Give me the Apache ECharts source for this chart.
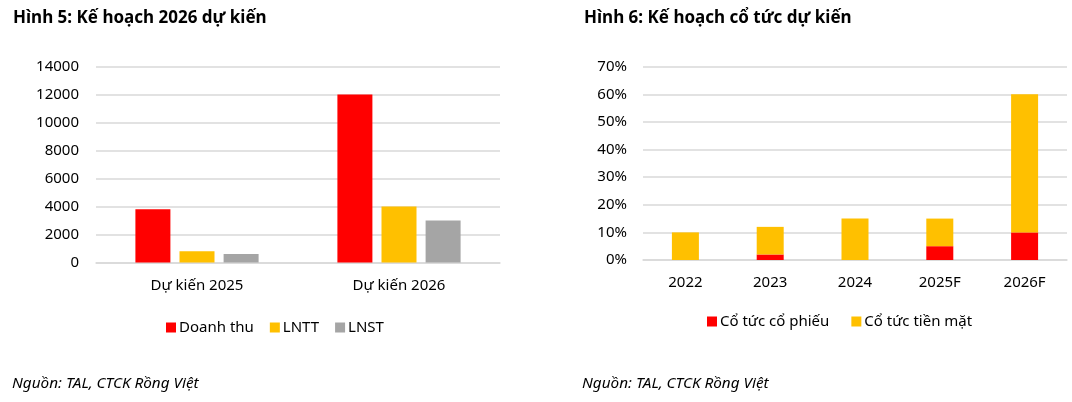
<!DOCTYPE html>
<html>
<head>
<meta charset="utf-8">
<script src="https://cdn.jsdelivr.net/npm/echarts@6/dist/echarts.min.js"></script>
<style>
html,body{margin:0;padding:0;background:#fff;}
#c{width:1072px;height:402px;}
</style>
</head>
<body>
<div id="c"></div>
<script>
// Left chart data
const planCategories = ['Dự kiến 2025', 'Dự kiến 2026'];
const doanhThu = [3800, 12000];
const lntt = [800, 4000];
const lnst = [600, 3000];

// Right chart data
const divCategories = ['2022', '2023', '2024', '2025F', '2026F'];
const coTucCoPhieu = [0, 2, 0, 5, 10];
const coTucTienMat = [10, 10, 15, 10, 50];

const FONT = 'Noto Sans';
const GRID = '#D9D9D9';
const chart = echarts.init(document.getElementById('c'));

chart.setOption({
  animation: false,
  textStyle: {fontFamily: FONT, color: '#000'},
  title: [
    {text: 'Hình 5: Kế hoạch 2026 dự kiến', left: 8, top: 5,
     textStyle: {fontFamily: FONT, fontWeight: 'bold', fontSize: 17, color: '#000'}},
    {text: 'Hình 6: Kế hoạch cổ tức dự kiến', left: 579, top: 5,
     textStyle: {fontFamily: FONT, fontWeight: 'bold', fontSize: 17, color: '#000'}},
    {text: 'Nguồn: TAL, CTCK Rồng Việt', left: 7, top: 371,
     textStyle: {fontFamily: FONT, fontStyle: 'italic', fontWeight: 'normal', fontSize: 15.3, color: '#000'}},
    {text: 'Nguồn: TAL, CTCK Rồng Việt', left: 577, top: 371,
     textStyle: {fontFamily: FONT, fontStyle: 'italic', fontWeight: 'normal', fontSize: 15.3, color: '#000'}}
  ],
  legend: [
    {data: ['Doanh thu', 'LNTT', 'LNST'], left: 161, top: 315, itemWidth: 10, itemHeight: 10,
     itemGap: 16, icon: 'rect', textStyle: {fontFamily: FONT, fontSize: 15, color: '#000', padding: [0,0,0,-2]}},
    {data: ['Cổ tức cổ phiếu', 'Cổ tức tiền mặt'], left: 702, top: 309, itemWidth: 10, itemHeight: 10,
     itemGap: 22, icon: 'rect', textStyle: {fontFamily: FONT, fontSize: 15, color: '#000', padding: [0,0,0,-2]}}
  ],
  grid: [
    {left: 96, width: 404, top: 66.5, height: 196},
    {left: 643, width: 424, top: 66.7, height: 193.3}
  ],
  xAxis: [
    {type: 'category', gridIndex: 0, data: planCategories,
     axisLine: {lineStyle: {color: GRID, width: 1.5}}, axisTick: {show: false},
     axisLabel: {fontFamily: FONT, fontSize: 15, color: '#000', margin: 16}},
    {type: 'category', gridIndex: 1, data: divCategories,
     axisLine: {lineStyle: {color: GRID, width: 1.5}}, axisTick: {show: false},
     axisLabel: {fontFamily: FONT, fontSize: 15, color: '#000', margin: 15}}
  ],
  yAxis: [
    {type: 'value', gridIndex: 0, min: 0, max: 14000, interval: 2000,
     axisLine: {show: false}, axisTick: {show: false},
     splitLine: {lineStyle: {color: GRID, width: 1.5}},
     axisLabel: {fontFamily: FONT, fontSize: 15, color: '#000', margin: 17,
                 formatter: function (v) { return String(v); }}},
    {type: 'value', gridIndex: 1, min: 0, max: 70, interval: 10,
     axisLine: {show: false}, axisTick: {show: false},
     splitLine: {lineStyle: {color: GRID, width: 1.5}},
     axisLabel: {fontFamily: FONT, fontSize: 15, color: '#000', margin: 16, formatter: '{value}%'}}
  ],
  series: [
    {name: 'Doanh thu', type: 'bar', xAxisIndex: 0, yAxisIndex: 0, data: doanhThu,
     barWidth: 35, barGap: '26%', itemStyle: {color: '#FF0000'}},
    {name: 'LNTT', type: 'bar', xAxisIndex: 0, yAxisIndex: 0, data: lntt,
     barWidth: 35, barGap: '26%', itemStyle: {color: '#FFC000'}},
    {name: 'LNST', type: 'bar', xAxisIndex: 0, yAxisIndex: 0, data: lnst,
     barWidth: 35, barGap: '26%', itemStyle: {color: '#A5A5A5'}},
    {name: 'Cổ tức cổ phiếu', type: 'bar', xAxisIndex: 1, yAxisIndex: 1, data: coTucCoPhieu,
     stack: 'div', barWidth: 27, itemStyle: {color: '#FF0000'}},
    {name: 'Cổ tức tiền mặt', type: 'bar', xAxisIndex: 1, yAxisIndex: 1, data: coTucTienMat,
     stack: 'div', barWidth: 27, itemStyle: {color: '#FFC000'}}
  ]
});
</script>
</body>
</html>
